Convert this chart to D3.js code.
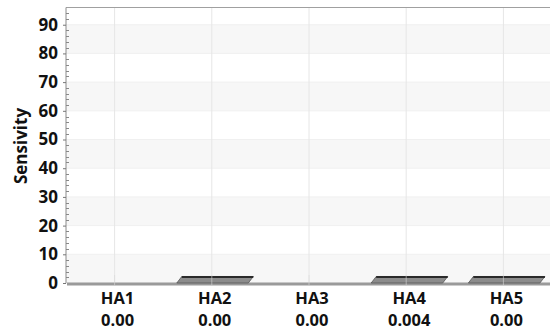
<!DOCTYPE html>
<html><head><meta charset="utf-8">
<script src="https://cdn.jsdelivr.net/npm/d3@7"></script>
<style>body{margin:0;background:#fff}svg{display:block}text{font-family:"Open Sans",sans-serif;font-weight:bold;fill:#111}</style>
</head><body><svg id="c" width="550" height="336"></svg>
<script>
const categories = ["HA1","HA2","HA3","HA4","HA5"];
const valueLabels = ["0.00","0.00","0.00","0.004","0.00"];
const sensitivity = [0, 0.001, 0, 0.004, 0.001];
const yTicks = [0,10,20,30,40,50,60,70,80,90];
const yTitle = "Sensivity";

const svg = d3.select("#c");
const L = 66, R = 552, T = 7.5, B = 283;
const x = d3.scaleBand().domain(categories).range([L, R]).paddingInner(0).paddingOuter(0);
const y = d3.scaleLinear().domain([0, 96]).range([B, T]);

// alternating bands
const bandStarts = [0,20,40,60,80];
svg.selectAll("rect.band").data(bandStarts).enter().append("rect")
  .attr("x", L).attr("width", R-L)
  .attr("y", d => y(d+10)).attr("height", d => y(d)-y(d+10))
  .attr("fill", "#f7f7f7");
svg.selectAll("line.hg").data(yTicks).enter().append("line")
  .attr("x1", L).attr("x2", R).attr("y1", d=>y(d)).attr("y2", d=>y(d))
  .attr("stroke", "#f0f0f0").attr("stroke-width", 1);
svg.selectAll("line.vg").data(categories).enter().append("line")
  .attr("x1", d=>x(d)+x.bandwidth()/2).attr("x2", d=>x(d)+x.bandwidth()/2)
  .attr("y1", T).attr("y2", B+3)
  .attr("stroke", "#e6e6e6").attr("stroke-width", 1);

svg.append("line").attr("x1", L).attr("x2", R).attr("y1", T).attr("y2", T)
  .attr("stroke", "#a0a0a0").attr("stroke-width", 1.2);

svg.append("rect").attr("x", L+1).attr("y", B-0.5).attr("width", R-L).attr("height", 3)
  .attr("fill", "#9a9a9a");

// bars (3D flat)
const depthX = 5, depthY = 6.5, bw = 71.5, off = -35;
const barData = categories.map((c,i)=>({c, v: sensitivity[i]})).filter(d=>d.v>0);
barData.forEach(d => {
  const cx = x(d.c) + x.bandwidth()/2;
  const x0 = cx + off, x1 = x0 + bw, yb = y(d.v);
  const pts = [[x0, yb],[x0+depthX, yb-depthY],[x1+depthX, yb-depthY],[x1, yb]];
  svg.append("path").attr("d", d3.line()(pts)+"Z")
    .attr("fill", "#8c8c8c").attr("stroke", "#555").attr("stroke-width", 0.8);
  svg.append("line").attr("x1", x0+depthX).attr("x2", x1+depthX)
    .attr("y1", yb-depthY+0.5).attr("y2", yb-depthY+0.5)
    .attr("stroke", "#2a2a2a").attr("stroke-width", 1.8);
});
svg.selectAll("line.vg2").data(categories).enter().append("line")
  .attr("x1", d=>x(d)+x.bandwidth()/2).attr("x2", d=>x(d)+x.bandwidth()/2)
  .attr("y1", B-8).attr("y2", B+3)
  .attr("stroke", "#d8d8d8").attr("stroke-opacity", 0.6).attr("stroke-width", 1);

// y axis
const ax = svg.append("g").attr("transform", `translate(${L},0)`)
  .call(d3.axisLeft(y).tickValues(yTicks).tickSize(3).tickPadding(5));
ax.select(".domain").attr("stroke", "#8a8a8a").attr("d", `M0,${T}V${B}`);
ax.selectAll(".tick line").attr("stroke", "#777");
ax.selectAll(".tick text").style("font-size", "17px").attr("fill", "#111");
const minor = d3.range(0, 96, 2).filter(v => v % 10 !== 0);
svg.selectAll("line.mt").data(minor).enter().append("line")
  .attr("x1", L).attr("x2", L+3).attr("y1", d=>Math.round(y(d))+0.5).attr("y2", d=>Math.round(y(d))+0.5)
  .attr("stroke", "#888").attr("stroke-width", 1);

svg.append("text").attr("transform", `translate(27,146) rotate(-90)`)
  .attr("text-anchor", "middle").style("font-size", "17px").text(yTitle);

categories.forEach((c,i) => {
  const cx = x(c) + x.bandwidth()/2 + 3;
  svg.append("text").attr("x", cx).attr("y", 304).attr("text-anchor", "middle")
    .style("font-size", "16.5px").text(c);
  svg.append("text").attr("x", cx).attr("y", 326).attr("text-anchor", "middle")
    .style("font-size", "16.5px").text(valueLabels[i]);
});
</script></body></html>
